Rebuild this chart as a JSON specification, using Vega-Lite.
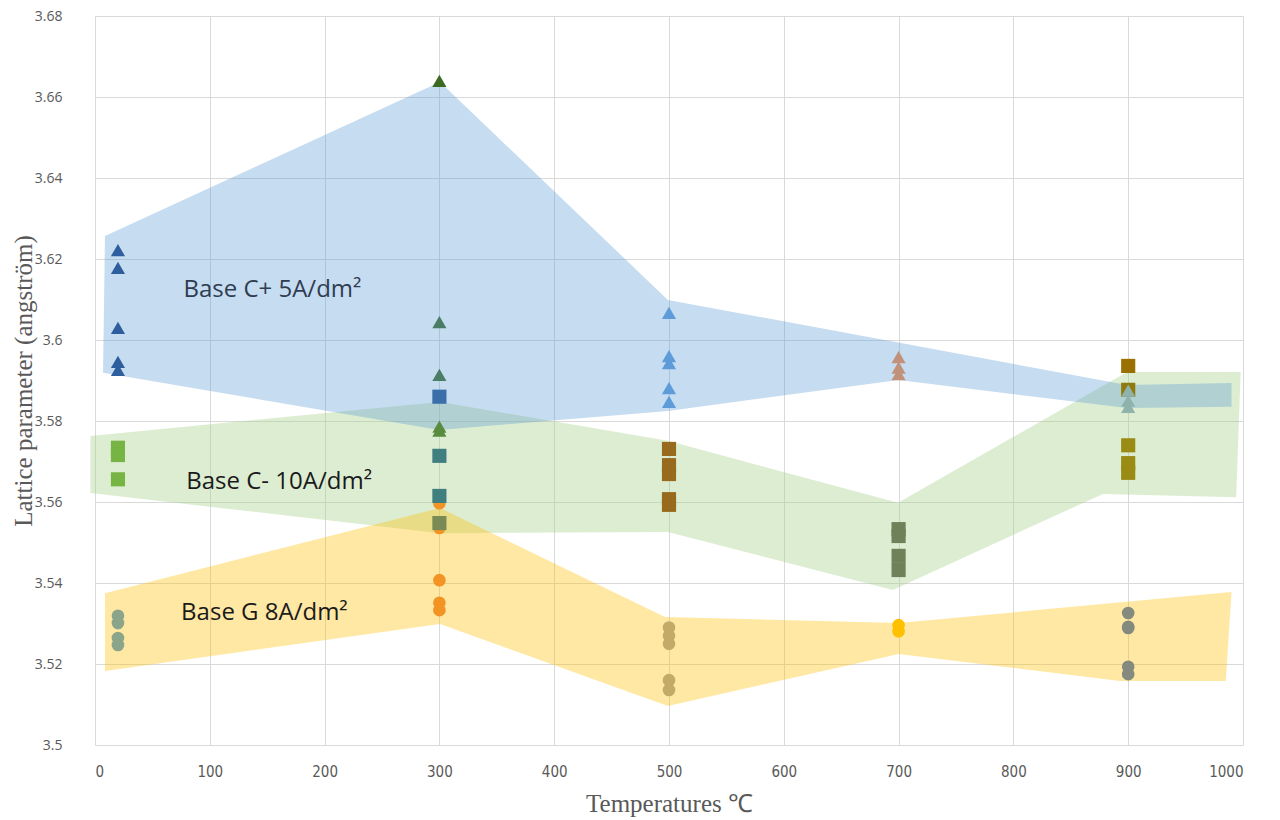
{
  "$schema": "https://vega.github.io/schema/vega-lite/v6.json",
  "width": 1148,
  "height": 729,
  "autosize": {"type": "none"},
  "padding": {"left": 95, "top": 16, "right": 37, "bottom": 75},
  "background": "white",
  "config": {
    "view": {"stroke": null},
    "axis": {"grid": true, "gridColor": "#d9d9d9", "gridWidth": 1, "domain": false, "ticks": false, "labelColor": "#595959", "titleColor": "#595959", "titleFontWeight": "normal"}
  },
  "datasets": {
    "polys": [
      {"band": "C+", "i": 1, "t": 8.7, "v": 3.6257},
      {"band": "C+", "i": 2, "t": 300.5, "v": 3.6637},
      {"band": "C+", "i": 3, "t": 499, "v": 3.6099},
      {"band": "C+", "i": 4, "t": 899, "v": 3.5889},
      {"band": "C+", "i": 5, "t": 990, "v": 3.5894},
      {"band": "C+", "i": 6, "t": 990, "v": 3.5835},
      {"band": "C+", "i": 7, "t": 899, "v": 3.5832},
      {"band": "C+", "i": 8, "t": 700, "v": 3.5901},
      {"band": "C+", "i": 9, "t": 499, "v": 3.5825},
      {"band": "C+", "i": 10, "t": 300, "v": 3.5778},
      {"band": "C+", "i": 11, "t": 7, "v": 3.5919},
      {"band": "C-", "i": 1, "t": -4, "v": 3.5763},
      {"band": "C-", "i": 2, "t": 300.5, "v": 3.5847},
      {"band": "C-", "i": 3, "t": 499, "v": 3.5751},
      {"band": "C-", "i": 4, "t": 699.5, "v": 3.5598},
      {"band": "C-", "i": 5, "t": 899, "v": 3.5921},
      {"band": "C-", "i": 6, "t": 998, "v": 3.5921},
      {"band": "C-", "i": 7, "t": 994, "v": 3.5612},
      {"band": "C-", "i": 8, "t": 878, "v": 3.562},
      {"band": "C-", "i": 9, "t": 695, "v": 3.5383},
      {"band": "C-", "i": 10, "t": 499, "v": 3.5526},
      {"band": "C-", "i": 11, "t": 300.5, "v": 3.5523},
      {"band": "C-", "i": 12, "t": -4, "v": 3.5622},
      {"band": "G", "i": 1, "t": 8.7, "v": 3.5375},
      {"band": "G", "i": 2, "t": 300.5, "v": 3.5585},
      {"band": "G", "i": 3, "t": 496.5, "v": 3.5316},
      {"band": "G", "i": 4, "t": 700, "v": 3.5301},
      {"band": "G", "i": 5, "t": 990, "v": 3.5378},
      {"band": "G", "i": 6, "t": 985, "v": 3.5158},
      {"band": "G", "i": 7, "t": 893, "v": 3.5158},
      {"band": "G", "i": 8, "t": 700, "v": 3.5225},
      {"band": "G", "i": 9, "t": 499, "v": 3.5096},
      {"band": "G", "i": 10, "t": 300.5, "v": 3.5299},
      {"band": "G", "i": 11, "t": 8.7, "v": 3.5183}
    ],
    "points": [
      {"series": "C+ 20", "shape": "triangle", "t": 20, "v": 3.6222},
      {"series": "C+ 20", "shape": "triangle", "t": 20, "v": 3.6178},
      {"series": "C+ 20", "shape": "triangle", "t": 20, "v": 3.603},
      {"series": "C+ 20", "shape": "triangle", "t": 20, "v": 3.5946},
      {"series": "C+ 20", "shape": "triangle", "t": 20, "v": 3.5926},
      {"series": "C- 20", "shape": "square", "t": 20, "v": 3.5734},
      {"series": "C- 20", "shape": "square", "t": 20, "v": 3.5716},
      {"series": "C- 20", "shape": "square", "t": 20, "v": 3.5656},
      {"series": "G 20", "shape": "circle", "t": 20, "v": 3.5319},
      {"series": "G 20", "shape": "circle", "t": 20, "v": 3.5301},
      {"series": "G 20", "shape": "circle", "t": 20, "v": 3.5264},
      {"series": "G 20", "shape": "circle", "t": 20, "v": 3.5247},
      {"series": "C+ 300 a", "shape": "triangle", "t": 300, "v": 3.664},
      {"series": "C+ 300 b", "shape": "triangle", "t": 300, "v": 3.6044},
      {"series": "C+ 300 b", "shape": "triangle", "t": 300, "v": 3.5914},
      {"series": "C+ 300 c", "shape": "triangle", "t": 300, "v": 3.5786},
      {"series": "C+ 300 c", "shape": "triangle", "t": 300, "v": 3.5776},
      {"series": "C- 300 a", "shape": "square", "t": 300, "v": 3.586},
      {"series": "C- 300 b", "shape": "square", "t": 300, "v": 3.5714},
      {"series": "C- 300 b", "shape": "square", "t": 300, "v": 3.5615},
      {"series": "C- 300 c", "shape": "square", "t": 300, "v": 3.5548},
      {"series": "G 300", "shape": "circle", "t": 300, "v": 3.5597},
      {"series": "G 300", "shape": "circle", "t": 300, "v": 3.5536},
      {"series": "G 300", "shape": "circle", "t": 300, "v": 3.5407},
      {"series": "G 300", "shape": "circle", "t": 300, "v": 3.5351},
      {"series": "G 300", "shape": "circle", "t": 300, "v": 3.5333},
      {"series": "C+ 500", "shape": "triangle", "t": 500, "v": 3.6067},
      {"series": "C+ 500", "shape": "triangle", "t": 500, "v": 3.596},
      {"series": "C+ 500", "shape": "triangle", "t": 500, "v": 3.5943},
      {"series": "C+ 500", "shape": "triangle", "t": 500, "v": 3.5881},
      {"series": "C+ 500", "shape": "triangle", "t": 500, "v": 3.5847},
      {"series": "C- 500", "shape": "square", "t": 500, "v": 3.5731},
      {"series": "C- 500", "shape": "square", "t": 500, "v": 3.5691},
      {"series": "C- 500", "shape": "square", "t": 500, "v": 3.5669},
      {"series": "C- 500", "shape": "square", "t": 500, "v": 3.5607},
      {"series": "C- 500", "shape": "square", "t": 500, "v": 3.5593},
      {"series": "G 500", "shape": "circle", "t": 500, "v": 3.529},
      {"series": "G 500", "shape": "circle", "t": 500, "v": 3.527},
      {"series": "G 500", "shape": "circle", "t": 500, "v": 3.525},
      {"series": "G 500", "shape": "circle", "t": 500, "v": 3.516},
      {"series": "G 500", "shape": "circle", "t": 500, "v": 3.5136},
      {"series": "C+ 700", "shape": "triangle", "t": 700, "v": 3.5958},
      {"series": "C+ 700", "shape": "triangle", "t": 700, "v": 3.5932},
      {"series": "C+ 700", "shape": "triangle", "t": 700, "v": 3.5916},
      {"series": "C- 700", "shape": "square", "t": 700, "v": 3.5533},
      {"series": "C- 700", "shape": "square", "t": 700, "v": 3.5516},
      {"series": "C- 700", "shape": "square", "t": 700, "v": 3.5467},
      {"series": "C- 700", "shape": "square", "t": 700, "v": 3.5432},
      {"series": "G 700", "shape": "circle", "t": 700, "v": 3.5296},
      {"series": "G 700", "shape": "circle", "t": 700, "v": 3.5281},
      {"series": "C- 900 a", "shape": "square", "t": 900, "v": 3.5936},
      {"series": "C- 900 b", "shape": "square", "t": 900, "v": 3.5877},
      {"series": "C+ 900", "shape": "triangle", "t": 900, "v": 3.5875},
      {"series": "C+ 900", "shape": "triangle", "t": 900, "v": 3.585},
      {"series": "C+ 900", "shape": "triangle", "t": 900, "v": 3.5835},
      {"series": "C- 900 c", "shape": "square", "t": 900, "v": 3.574},
      {"series": "C- 900 c", "shape": "square", "t": 900, "v": 3.5696},
      {"series": "C- 900 c", "shape": "square", "t": 900, "v": 3.5672},
      {"series": "G 900", "shape": "circle", "t": 900, "v": 3.5326},
      {"series": "G 900", "shape": "circle", "t": 900, "v": 3.5292},
      {"series": "G 900", "shape": "circle", "t": 900, "v": 3.5289},
      {"series": "G 900", "shape": "circle", "t": 900, "v": 3.5193},
      {"series": "G 900", "shape": "circle", "t": 900, "v": 3.5175}
    ],
    "labels": [
      {"label": "Base C+ 5A/dm²", "group": "C+", "t": 77, "v": 3.6123},
      {"label": "Base C- 10A/dm²", "group": "C-", "t": 79.5, "v": 3.5649},
      {"label": "Base G 8A/dm²", "group": "G", "t": 75, "v": 3.5326}
    ]
  },
  "encoding": {
    "x": {"field": "t", "type": "quantitative",
      "scale": {"domain": [0, 1000], "nice": false, "zero": false},
      "axis": {"values": [0, 100, 200, 300, 400, 500, 600, 700, 800, 900, 1000], "format": "d", "title": "Temperatures ℃", "labelFont": "DejaVu Sans Condensed", "labelFontSize": 15, "labelPadding": 19, "titleFont": "Liberation Serif", "titleFontSize": 25, "titlePadding": 12}},
    "y": {"field": "v", "type": "quantitative",
      "scale": {"domain": [3.5, 3.68], "nice": false, "zero": false},
      "axis": {"values": [3.5, 3.52, 3.54, 3.56, 3.58, 3.6, 3.62, 3.64, 3.66, 3.68], "format": ".2~f", "title": "Lattice parameter (angström)", "labelFont": "Open Sans", "labelFontSize": 14, "labelPadding": 33, "titleFont": "Liberation Serif", "titleFontSize": 25, "titleX": -72, "titleY": 364.5, "titleAngle": 270, "titleAlign": "center", "titleBaseline": "middle"}}
  },
  "layer": [
    {
      "data": {"name": "polys"},
      "transform": [{"filter": "datum.band === 'C-'"}],
      "mark": {"type": "line", "interpolate": "linear-closed", "fill": "#A9D18E", "fillOpacity": 0.4, "strokeOpacity": 0, "strokeWidth": 0},
      "encoding": {"order": {"field": "i", "type": "quantitative"}}
    },
    {
      "data": {"name": "polys"},
      "transform": [{"filter": "datum.band === 'G'"}],
      "mark": {"type": "line", "interpolate": "linear-closed", "fill": "#FFC000", "fillOpacity": 0.36, "strokeOpacity": 0, "strokeWidth": 0},
      "encoding": {"order": {"field": "i", "type": "quantitative"}}
    },
    {
      "data": {"name": "polys"},
      "transform": [{"filter": "datum.band === 'C+'"}],
      "mark": {"type": "line", "interpolate": "linear-closed", "fill": "#5B9BD5", "fillOpacity": 0.35, "strokeOpacity": 0, "strokeWidth": 0},
      "encoding": {"order": {"field": "i", "type": "quantitative"}}
    },
    {
      "data": {"name": "labels"},
      "mark": {"type": "text", "align": "left", "baseline": "middle", "font": "Open Sans", "fontSize": 24},
      "encoding": {
        "text": {"field": "label"},
        "color": {"condition": {"test": "datum.group === 'C+'", "value": "#2f3d52"}, "value": "#1a1a1a"}
      }
    },
    {
      "data": {"name": "points"},
      "transform": [{"filter": "datum.shape === 'circle'"}],
      "mark": {"type": "point", "shape": "circle", "filled": true, "opacity": 1, "size": 160},
      "encoding": {"color": {"field": "series", "type": "nominal", "legend": null, "scale": {
        "domain": ["C+ 20", "C- 20", "G 20", "C+ 300 a", "C+ 300 b", "C+ 300 c", "C- 300 a", "C- 300 b", "C- 300 c", "G 300", "C+ 500", "C- 500", "G 500", "C+ 700", "C- 700", "G 700", "C- 900 a", "C- 900 b", "C+ 900", "C- 900 c", "G 900"],
        "range": ["#2f5e9e", "#76b443", "#8aa58a", "#3b6b23", "#4a7d66", "#5a8c3f", "#3a6faa", "#3f7f80", "#7a8a55", "#f39324", "#5d9cd8", "#986a1e", "#c2aa68", "#c1917a", "#6e8158", "#ffc000", "#9a7100", "#8f7a10", "#8fb3ac", "#9a8b15", "#848b7e"]}}}
    },
    {
      "data": {"name": "points"},
      "transform": [{"filter": "datum.shape === 'square'"}],
      "mark": {"type": "point", "shape": "square", "filled": true, "opacity": 1, "size": 200},
      "encoding": {"color": {"field": "series", "type": "nominal", "legend": null}}
    },
    {
      "data": {"name": "points"},
      "transform": [{"filter": "datum.shape === 'triangle'"}],
      "mark": {"type": "point", "shape": "triangle-up", "filled": true, "opacity": 1, "size": 200},
      "encoding": {"color": {"field": "series", "type": "nominal", "legend": null}}
    }
  ]
}
